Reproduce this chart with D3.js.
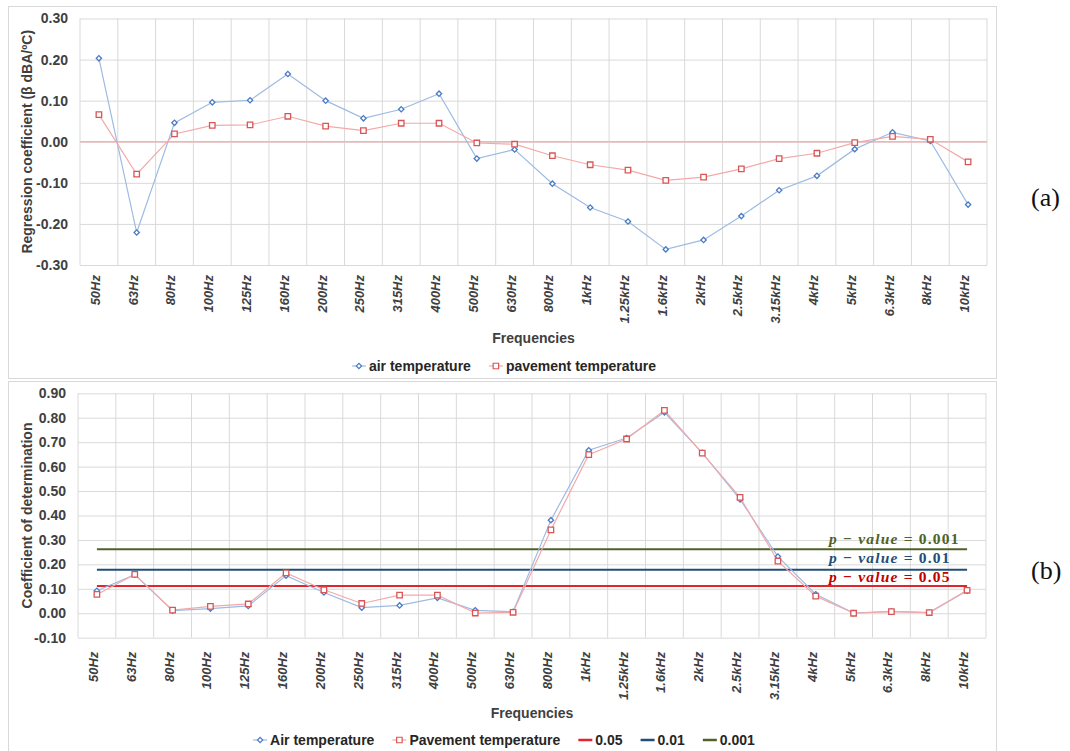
<!DOCTYPE html>
<html>
<head>
<meta charset="utf-8">
<script src="https://cdn.jsdelivr.net/npm/d3@7/dist/d3.min.js"></script>
<style>
  body { margin: 0; background: #fff; }
  svg { display: block; font-family: "Liberation Sans", Arial, sans-serif; }
</style>
</head>
<body>
<script>
// third-octave bands on the x axis
const frequencies = ["50Hz", "63Hz", "80Hz", "100Hz", "125Hz", "160Hz", "200Hz", "250Hz",
  "315Hz", "400Hz", "500Hz", "630Hz", "800Hz", "1kHz", "1.25kHz", "1.6kHz", "2kHz",
  "2.5kHz", "3.15kHz", "4kHz", "5kHz", "6.3kHz", "8kHz", "10kHz"]

// (a) regression coefficients
const airCoef = [0.203, -0.221, 0.046, 0.096, 0.101, 0.165, 0.100, 0.057, 0.079, 0.117, -0.041, -0.019,
  -0.102, -0.160, -0.194, -0.262, -0.239, -0.181, -0.118, -0.083, -0.018, 0.023, 0.002, -0.153]
const paveCoef = [0.066, -0.079, 0.019, 0.040, 0.041, 0.062, 0.038, 0.027, 0.045, 0.045, -0.003, -0.006,
  -0.034, -0.056, -0.069, -0.094, -0.086, -0.066, -0.041, -0.028, -0.002, 0.013, 0.006, -0.049]
const coefTicks = [0.30, 0.20, 0.10, 0.00, -0.10, -0.20, -0.30]

// (b) coefficients of determination
const airR2 = [0.092, 0.158, 0.011, 0.019, 0.030, 0.154, 0.085, 0.023, 0.032, 0.063, 0.012, 0.006,
  0.381, 0.667, 0.717, 0.822, 0.656, 0.466, 0.232, 0.078, 0.001, 0.008, 0.003, 0.092]
const paveR2 = [0.077, 0.159, 0.013, 0.028, 0.038, 0.165, 0.096, 0.040, 0.074, 0.074, 0.001, 0.004,
  0.341, 0.649, 0.713, 0.830, 0.655, 0.474, 0.213, 0.070, 0.000, 0.007, 0.003, 0.094]
const r2Ticks = [0.90, 0.80, 0.70, 0.60, 0.50, 0.40, 0.30, 0.20, 0.10, 0.00, -0.10]

// significance thresholds
const pLevels = ["0.05", "0.01", "0.001"]
const pThresholds = [0.112, 0.178, 0.262]

const W = 1070, H = 751
const gridColor = "#d9d9d9", textColor = "#404040"
const blueLine = "#9dbbe3", blueMark = "#4a7bc6"
const redLine = "#f3a9a9", redMark = "#d95656"
const pColors = ["#e3242b", "#1f4e79", "#4f6228"]
const pTextColors = ["#c00000", "#1f4e79", "#4f6228"]
const pLabelRaise = [3.8, 6.7, 5.2]   // gap between each threshold line and its label baseline

const svg = d3.select("body").append("svg")
  .attr("width", W)
  .attr("height", H)

// chart area frames
svg.append("rect").attr("x", 8.5).attr("y", 6.5).attr("width", 988).attr("height", 372)
  .attr("fill", "none").attr("stroke", gridColor)
svg.append("rect").attr("x", 8.5).attr("y", 381.5).attr("width", 988).attr("height", 380)
  .attr("fill", "none").attr("stroke", gridColor)

function drawPanel(opts) {
  const g = svg.append("g")
  const x = d3.scaleBand().domain(frequencies).range([opts.left, opts.right])
  const y = d3.scaleLinear().domain(d3.extent(opts.ticks)).range([opts.bottom, opts.top])
  const cx = d => x(d) + x.bandwidth() / 2

  // horizontal grid + tick labels
  const yAxis = g.append("g")
    .attr("transform", "translate(" + opts.left + ",0)")
    .call(d3.axisLeft(y).tickValues(opts.ticks).tickFormat(d => d.toFixed(2))
      .tickSize(-(opts.right - opts.left)).tickPadding(12))
  yAxis.select(".domain").remove()
  yAxis.selectAll("line").attr("stroke", gridColor)
  yAxis.selectAll("text")
    .attr("fill", textColor)
    .attr("font-size", 14)
    .attr("font-weight", "bold")
    .attr("font-family", "Liberation Sans, Arial, sans-serif")

  // vertical grid at band edges
  g.selectAll(".vgrid").data(d3.range(frequencies.length + 1))
    .enter().append("line")
    .attr("x1", i => opts.left + i * x.step())
    .attr("x2", i => opts.left + i * x.step())
    .attr("y1", opts.top)
    .attr("y2", opts.bottom)
    .attr("stroke", gridColor)

  if (opts.zeroLine) {
    g.append("line")
      .attr("x1", opts.left).attr("x2", opts.right)
      .attr("y1", y(0)).attr("y2", y(0))
      .attr("stroke", "#f4b3b3").attr("stroke-width", 1.5)
  }

  // category labels, rotated
  g.selectAll(".xlab").data(frequencies)
    .enter().append("text")
    .attr("transform", d => "translate(" + (cx(d) + 1) + "," + (opts.bottom + opts.labelGap) + ") rotate(-90)")
    .attr("text-anchor", "end")
    .attr("font-size", 13)
    .attr("font-weight", "bold")
    .attr("font-style", "italic")
    .attr("fill", textColor)
    .text(d => d)

  // y title
  g.append("text")
    .attr("transform", "translate(32," + ((opts.top + opts.bottom) / 2) + ") rotate(-90)")
    .attr("text-anchor", "middle")
    .attr("font-size", 14)
    .attr("font-weight", "bold")
    .attr("fill", textColor)
    .text(opts.yTitle)

  // x title
  g.append("text")
    .attr("x", (opts.left + opts.right) / 2)
    .attr("y", opts.xTitleY)
    .attr("text-anchor", "middle")
    .attr("font-size", 14)
    .attr("font-weight", "bold")
    .attr("fill", textColor)
    .text("Frequencies")

  // threshold lines (panel b)
  if (opts.thresholds) {
    const first = cx(frequencies[0]), last = cx(frequencies[frequencies.length - 1])
    opts.thresholds.forEach((t, i) => {
      g.append("line")
        .attr("x1", first).attr("x2", last)
        .attr("y1", y(t)).attr("y2", y(t))
        .attr("stroke", pColors[i]).attr("stroke-width", 2)
      const lab = g.append("text")
        .attr("x", 829)
        .attr("y", y(t) - pLabelRaise[i])
        .attr("font-family", "Liberation Serif, Times New Roman, serif")
        .attr("font-size", 15.5)
        .attr("font-weight", "bold")
        .attr("letter-spacing", 1.2)
        .attr("fill", pTextColors[i])
      lab.append("tspan").attr("font-style", "italic").text("p")
      lab.append("tspan").text(" \u2212 ")
      lab.append("tspan").attr("font-style", "italic").text("value")
      lab.append("tspan").text(" = " + pLevels[i])
    })
  }

  // series lines and markers
  const line = d3.line().x((d, i) => cx(frequencies[i])).y(d => y(d))
  opts.series.forEach(s => {
    g.append("path")
      .datum(s.values)
      .attr("d", line)
      .attr("fill", "none")
      .attr("stroke", s.lineColor)
      .attr("stroke-width", 1.2)
  })
  opts.series.forEach(s => {
    g.selectAll(null).data(s.values)
      .enter().append("path")
      .attr("d", d3.symbol(d3.symbolSquare, s.size))
      .attr("transform", (d, i) => "translate(" + cx(frequencies[i]) + "," + y(d) + ") rotate(" + s.rotate + ")")
      .attr("fill", "#fff")
      .attr("stroke", s.markColor)
      .attr("stroke-width", 1.3)
  })

  // legend
  const leg = g.append("g")
  let pos = 0
  opts.legend.forEach(item => {
    const it = leg.append("g").attr("transform", "translate(" + pos + ",0)")
    it.append("line").attr("x1", 0).attr("x2", 14)
      .attr("stroke", item.lineColor).attr("stroke-width", item.marker ? 1.2 : 2.5)
    if (item.marker) {
      it.append("path")
        .attr("d", d3.symbol(d3.symbolSquare, item.marker.size))
        .attr("transform", "translate(7,0) rotate(" + item.marker.rotate + ")")
        .attr("fill", "#fff").attr("stroke", item.marker.color).attr("stroke-width", 1.2)
    }
    const t = it.append("text").attr("x", 17).attr("dy", "0.35em")
      .attr("font-size", 14).attr("font-weight", "bold").attr("fill", "#262626")
      .text(item.label)
    pos += 17 + t.node().getComputedTextLength() + 18
  })
  pos -= 18
  leg.attr("transform", "translate(" + (504 - pos / 2) + "," + opts.legendY + ")")
}

const blueMarker = { size: 14, rotate: 45, color: blueMark }
const redMarker = { size: 30, rotate: 0, color: redMark }

drawPanel({
  left: 80, right: 987, top: 18.5, bottom: 265,
  ticks: coefTicks, labelGap: 10, zeroLine: true,
  yTitle: "Regression coefficient (\u03b2 dBA/\u00baC)",
  xTitleY: 343, legendY: 366,
  series: [
    { values: airCoef, lineColor: blueLine, markColor: blueMark, size: 14, rotate: 45 },
    { values: paveCoef, lineColor: redLine, markColor: redMark, size: 30, rotate: 0 }
  ],
  legend: [
    { label: "air temperature", lineColor: blueLine, marker: blueMarker },
    { label: "pavement temperature", lineColor: redLine, marker: redMarker }
  ]
})

drawPanel({
  left: 78, right: 986, top: 393.3, bottom: 637.7,
  ticks: r2Ticks, labelGap: 14, zeroLine: false,
  yTitle: "Coefficient of determination",
  xTitleY: 718, legendY: 740,
  thresholds: pThresholds,
  series: [
    { values: airR2, lineColor: blueLine, markColor: blueMark, size: 14, rotate: 45 },
    { values: paveR2, lineColor: redLine, markColor: redMark, size: 30, rotate: 0 }
  ],
  legend: [
    { label: "Air temperature", lineColor: blueLine, marker: blueMarker },
    { label: "Pavement temperature", lineColor: redLine, marker: redMarker },
    { label: pLevels[0], lineColor: pColors[0] },
    { label: pLevels[1], lineColor: pColors[1] },
    { label: pLevels[2], lineColor: pColors[2] }
  ]
})

// panel tags
svg.append("text").attr("x", 1031).attr("y", 206)
  .attr("font-family", "Liberation Serif, Times New Roman, serif").attr("font-size", 26)
  .attr("fill", "#111").text("(a)")
svg.append("text").attr("x", 1031).attr("y", 579)
  .attr("font-family", "Liberation Serif, Times New Roman, serif").attr("font-size", 26)
  .attr("fill", "#111").text("(b)")
</script>
</body>
</html>
